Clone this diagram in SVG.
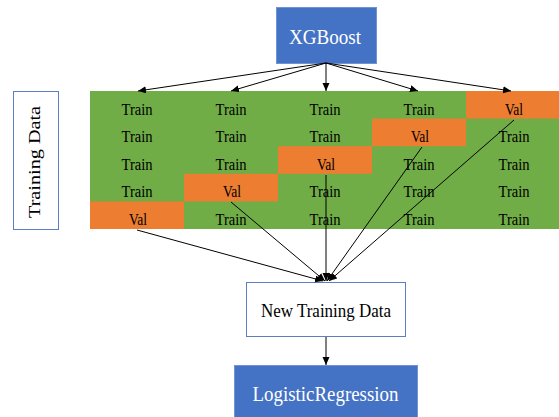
<svg xmlns="http://www.w3.org/2000/svg" width="559" height="417" viewBox="0 0 559 417">
<style>
.t{font-family:"Liberation Serif","Times New Roman",serif;fill:#000;text-anchor:middle}
.cell{font-size:16px}
.g{fill:#70AD47}
.o{fill:#ED7D31}
.blue{fill:#4472C4;stroke:#6F93D3;stroke-width:1}
.wbox{fill:#fff;stroke:#5B7FC0;stroke-width:1}
.wt{font-family:"Liberation Serif","Times New Roman",serif;fill:#fff;text-anchor:middle}
.c{stroke:#000;stroke-width:1;fill:none;marker-end:url(#ah)}
</style>
<defs>
<marker id="ah" markerUnits="userSpaceOnUse" markerWidth="10" markerHeight="8" refX="8" refY="3.5" orient="auto">
<path d="M0,0 L8,3.5 L0,7 z" fill="#000"/>
</marker>
</defs>
<g id="xgboost">
<rect class="blue" x="276.5" y="7.5" width="100" height="56"/>
<text class="wt" x="325" y="44" font-size="22" textLength="72" lengthAdjust="spacingAndGlyphs">XGBoost</text>
</g>
<g id="training-data">
<rect class="wbox" x="13.5" y="91.5" width="45" height="138"/>
<text class="t" transform="translate(40,162) scale(0.8,1) rotate(-90)" font-size="20" textLength="112" lengthAdjust="spacingAndGlyphs">Training Data</text>
</g>
<g id="grid">
<rect class="g" x="90" y="91" width="469" height="138"/>
<rect class="o" x="466" y="91" width="93" height="27.6"/>
<rect class="o" x="372" y="118.6" width="94" height="27.6"/>
<rect class="o" x="278" y="146.2" width="94" height="27.6"/>
<rect class="o" x="184" y="173.8" width="94" height="27.6"/>
<rect class="o" x="90" y="201.4" width="94" height="27.6"/>
<g class="t cell">
<text x="137" y="114.5" textLength="31" lengthAdjust="spacingAndGlyphs">Train</text>
<text x="231" y="114.5" textLength="31" lengthAdjust="spacingAndGlyphs">Train</text>
<text x="325" y="114.5" textLength="31" lengthAdjust="spacingAndGlyphs">Train</text>
<text x="419" y="114.5" textLength="31" lengthAdjust="spacingAndGlyphs">Train</text>
<text x="514" y="114.5" textLength="18" lengthAdjust="spacingAndGlyphs">Val</text>
<text x="137" y="142.1" textLength="31" lengthAdjust="spacingAndGlyphs">Train</text>
<text x="231" y="142.1" textLength="31" lengthAdjust="spacingAndGlyphs">Train</text>
<text x="325" y="142.1" textLength="31" lengthAdjust="spacingAndGlyphs">Train</text>
<text x="420" y="142.1" textLength="18" lengthAdjust="spacingAndGlyphs">Val</text>
<text x="514" y="142.1" textLength="31" lengthAdjust="spacingAndGlyphs">Train</text>
<text x="137" y="169.7" textLength="31" lengthAdjust="spacingAndGlyphs">Train</text>
<text x="231" y="169.7" textLength="31" lengthAdjust="spacingAndGlyphs">Train</text>
<text x="326" y="169.7" textLength="18" lengthAdjust="spacingAndGlyphs">Val</text>
<text x="419" y="169.7" textLength="31" lengthAdjust="spacingAndGlyphs">Train</text>
<text x="514" y="169.7" textLength="31" lengthAdjust="spacingAndGlyphs">Train</text>
<text x="137" y="197.3" textLength="31" lengthAdjust="spacingAndGlyphs">Train</text>
<text x="232" y="197.3" textLength="18" lengthAdjust="spacingAndGlyphs">Val</text>
<text x="325" y="197.3" textLength="31" lengthAdjust="spacingAndGlyphs">Train</text>
<text x="419" y="197.3" textLength="31" lengthAdjust="spacingAndGlyphs">Train</text>
<text x="514" y="197.3" textLength="31" lengthAdjust="spacingAndGlyphs">Train</text>
<text x="138" y="224.9" textLength="18" lengthAdjust="spacingAndGlyphs">Val</text>
<text x="231" y="224.9" textLength="31" lengthAdjust="spacingAndGlyphs">Train</text>
<text x="325" y="224.9" textLength="31" lengthAdjust="spacingAndGlyphs">Train</text>
<text x="419" y="224.9" textLength="31" lengthAdjust="spacingAndGlyphs">Train</text>
<text x="514" y="224.9" textLength="31" lengthAdjust="spacingAndGlyphs">Train</text>
</g>
</g>
<g id="new-training-data">
<rect class="wbox" x="246.5" y="282.5" width="159" height="54"/>
<text class="t" x="326" y="317" font-size="18" textLength="130" lengthAdjust="spacingAndGlyphs">New Training Data</text>
</g>
<g id="logistic-regression">
<rect class="blue" x="234.5" y="365.5" width="183" height="60"/>
<text class="wt" x="325.5" y="401" font-size="21" textLength="146" lengthAdjust="spacingAndGlyphs">LogisticRegression</text>
</g>
<g id="connectors">
<line class="c" x1="326" y1="63" x2="138" y2="91"/>
<line class="c" x1="326" y1="63" x2="231" y2="91"/>
<line class="c" x1="326" y1="63" x2="326" y2="91"/>
<line class="c" x1="326" y1="63" x2="418" y2="91"/>
<line class="c" x1="326" y1="63" x2="511" y2="91"/>
<line class="c" x1="137" y1="230" x2="323" y2="281"/>
<line class="c" x1="231" y1="202" x2="325" y2="281"/>
<line class="c" x1="326" y1="175" x2="326" y2="281"/>
<line class="c" x1="422" y1="147" x2="327" y2="281"/>
<line class="c" x1="514" y1="120" x2="329" y2="281"/>
<line class="c" x1="326" y1="337" x2="326" y2="365"/>
</g>
</svg>
